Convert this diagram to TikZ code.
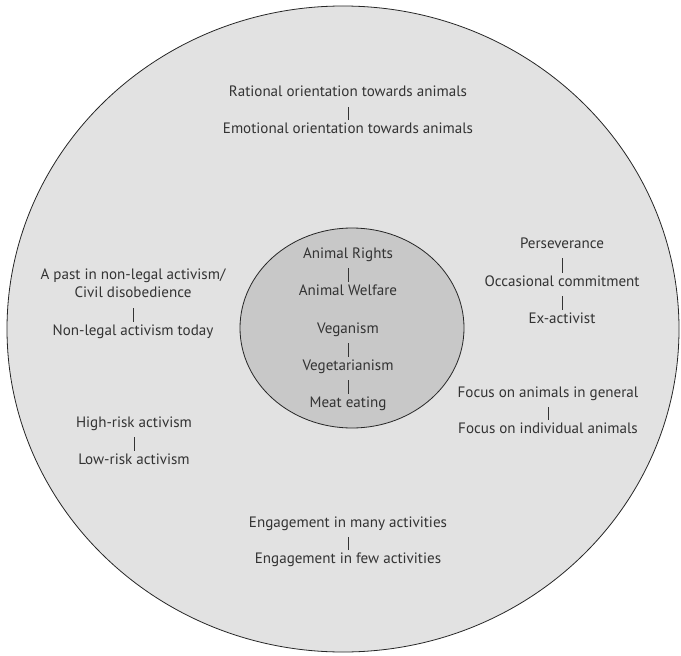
\documentclass[tikz,border=0pt]{standalone}
\usepackage{fontspec}
\setmainfont{PT Sans}
\definecolor{outerfill}{HTML}{E2E2E2}
\definecolor{innerfill}{HTML}{C8C8C8}
\definecolor{txt}{HTML}{333333}

\begin{document}
\begin{tikzpicture}[x=0.75pt, y=-0.75pt,
	lbl/.style={text=txt, font=\fontsize{11.3}{13.5}\selectfont, anchor=base, text height=8.4pt, text depth=6.5pt, inner xsep=2pt, inner ysep=1pt},
	lbltwo/.style={text=txt, font=\fontsize{11.3}{13.5}\selectfont, align=center, anchor=south, text depth=6.5pt, inner xsep=2pt, inner ysep=1pt},
	bar/.style={draw=txt, line width=.6pt}]
			\useasboundingbox (0,0) rectangle (681,656);
			\draw[fill=outerfill, draw=black!85, line width=.6pt] (343,329) ellipse [x radius=336, y radius=323];
			\draw[fill=innerfill, draw=black!85, line width=.6pt] (352,328) ellipse [x radius=112, y radius=100];
			% top
			\node[lbl] (rational) at (348,97) {Rational orientation towards animals};
			\node[lbl] (emotional) at (348,133) {Emotional orientation towards animals};
			\draw[bar] (rational) -- (emotional);
			% inner ellipse
			\node[lbl] (rights) at (348,258) {Animal Rights};
			\node[lbl] (welfare) at (348,295) {Animal Welfare};
			\node[lbl] (vegan) at (348,333) {Veganism};
			\node[lbl] (vegetarian) at (348,370) {Vegetarianism};
			\node[lbl] (meat) at (348,407) {Meat eating};
			\draw[bar] (rights) -- (welfare);
			\draw[bar] (vegan) -- (vegetarian);
			\draw[bar] (vegetarian) -- (meat);
			% left
			\node[lbltwo] (pastnonlegal) at (133,308) {A past in non-legal activism/\\Civil disobedience};
			\node[lbl] (nonlegal) at (133,335) {Non-legal activism today};
			\draw[bar] (pastnonlegal) -- (nonlegal);
			\node[lbl] (highrisk) at (134,427) {High-risk activism};
			\node[lbl] (lowrisk) at (134,464) {Low-risk activism};
			\draw[bar] (highrisk) -- (lowrisk);
			% right
			\node[lbl] (persev) at (562,248) {Perseverance};
			\node[lbl] (occasional) at (562,286) {Occasional commitment};
			\node[lbl] (exactivist) at (562,323) {Ex-activist};
			\draw[bar] (persev) -- (occasional);
			\draw[bar] (occasional) -- (exactivist);
			\node[lbl] (general) at (548,397) {Focus on animals in general};
			\node[lbl] (individual) at (548,433) {Focus on individual animals};
			\draw[bar] (general) -- (individual);
			% bottom
			\node[lbl] (many) at (348,527) {Engagement in many activities};
			\node[lbl] (few) at (348,563) {Engagement in few activities};
			\draw[bar] (many) -- (few);
\end{tikzpicture}
\end{document}
